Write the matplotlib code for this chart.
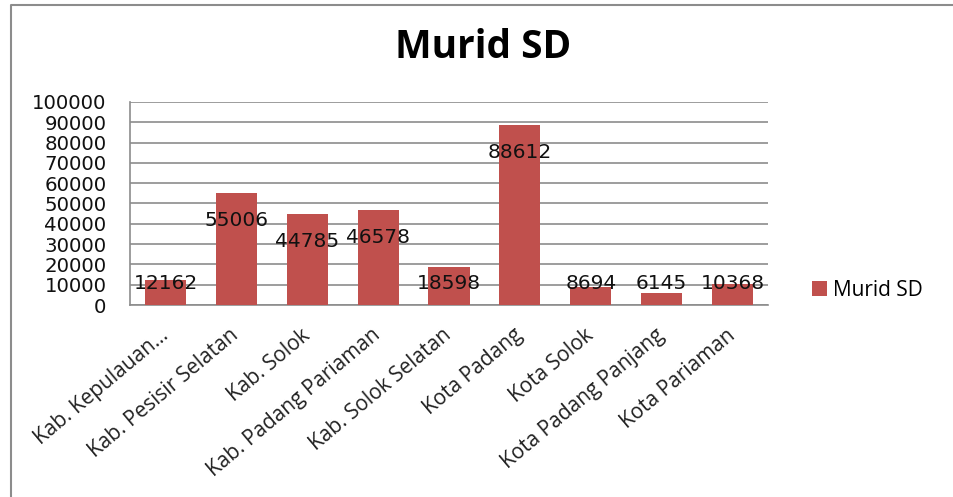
import numpy as np
import matplotlib.pyplot as plt
from matplotlib.lines import Line2D

kabupaten = ['Kab. Kepulauan...', 'Kab. Pesisir Selatan', 'Kab. Solok',
             'Kab. Padang Pariaman', 'Kab. Solok Selatan', 'Kota Padang',
             'Kota Solok', 'Kota Padang Panjang', 'Kota Pariaman']
murid_sd = [12162, 55006, 44785, 46578, 18598, 88612, 8694, 6145, 10368]
yticks = list(range(0, 100001, 10000))

bar_color = '#C0504D'
grid_color = '#8C8C8C'

fig = plt.figure(figsize=(9.54, 4.97), dpi=100)
ax = fig.add_axes([0.1363, 0.3863, 0.805 - 0.1363, 0.7948 - 0.3863])

x = np.arange(len(kabupaten))
ax.bar(x, murid_sd, width=0.58, color=bar_color, zorder=3, label='Murid SD')

# labels sit a bit below the bar top, like excel does
for xi, v in zip(x, murid_sd):
    ax.text(xi, max(v - 13300, 10800), str(v), ha='center', va='center',
            fontsize=14.5, family='DejaVu Sans', color='#111111', zorder=4)

ax.set_xlim(-0.5, len(kabupaten) - 0.5)
ax.set_ylim(0, 100000)
ax.set_yticks(yticks)
ax.set_yticklabels([str(t) for t in yticks], fontsize=14.2,
                   family='DejaVu Sans', color='#111111')
ax.tick_params(axis='y', length=0, pad=17)
ax.grid(axis='y', color=grid_color, linewidth=1.2, zorder=0)
ax.set_xticks(x)
ax.set_xticklabels(kabupaten, rotation=40, ha='right', va='center',
                   rotation_mode='anchor', fontsize=15, family='Open Sans',
                   color='#222222')
ax.tick_params(axis='x', length=0, pad=20)
for s in ['top', 'right']:
    ax.spines[s].set_visible(False)
for s in ['left', 'bottom']:
    ax.spines[s].set_color(grid_color)
    ax.spines[s].set_linewidth(1.2)

fig.text(0.506, 0.905, 'Murid SD', ha='center', va='center', fontsize=28,
         fontweight='bold', family='Open Sans')

fig.legend(loc='center left', bbox_to_anchor=(0.832, 1 - 290 / 497),
           frameon=False, prop={'family': 'Open Sans', 'size': 15},
           handlelength=0.7, handleheight=0.7, handletextpad=0.3)

# frame of the chart area
fig.add_artist(Line2D([11 / 954, 11 / 954, 1.0], [0.0, 1 - 5 / 497, 1 - 5 / 497],
                      transform=fig.transFigure, color='#8C8C8C', linewidth=1.5))

fig.savefig('out.png', dpi=100)
